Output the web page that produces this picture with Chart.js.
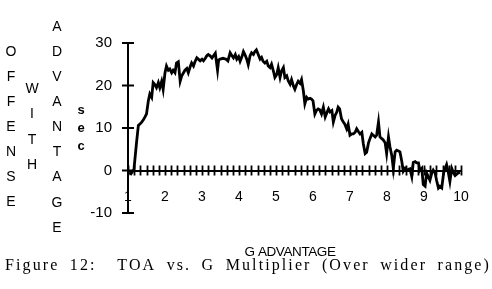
<!DOCTYPE html>
<html>
<head>
<meta charset="utf-8">
<script src="https://cdn.jsdelivr.net/npm/chart.js@4"></script>
<style>
  html, body { margin: 0; padding: 0; background: #fff; }
  canvas { display: block; }
</style>
</head>
<body>
<canvas id="toaChart" width="492" height="289"></canvas>
<script>
// G multiplier (x) and time of advantage in sec (y)
const gMultiplier = [
  1.03, 1.08, 1.12, 1.16, 1.19, 1.23, 1.28, 1.33, 1.37, 1.42, 1.46, 1.50, 1.55, 1.59, 1.64, 1.68, 1.72, 1.77, 1.82, 1.86,
  1.91, 1.95, 2.00, 2.04, 2.09, 2.13, 2.18, 2.22, 2.27, 2.31, 2.36, 2.41, 2.45, 2.50, 2.54, 2.59, 2.63, 2.68, 2.72, 2.77,
  2.81, 2.86, 2.90, 2.95, 3.00, 3.04, 3.09, 3.13, 3.17, 3.22, 3.27, 3.31, 3.36, 3.42, 3.45, 3.49, 3.57, 3.65, 3.70, 3.76,
  3.81, 3.85, 3.90, 3.94, 3.99, 4.03, 4.08, 4.12, 4.16, 4.21, 4.25, 4.30, 4.34, 4.39, 4.43, 4.47, 4.52, 4.57, 4.61, 4.65,
  4.70, 4.75, 4.79, 4.84, 4.88, 4.93, 4.97, 5.02, 5.06, 5.11, 5.15, 5.20, 5.24, 5.29, 5.33, 5.38, 5.42, 5.47, 5.51, 5.56,
  5.60, 5.65, 5.69, 5.74, 5.78, 5.83, 5.87, 5.92, 5.96, 6.00, 6.05, 6.09, 6.14, 6.18, 6.23, 6.28, 6.33, 6.37, 6.42, 6.46,
  6.51, 6.55, 6.60, 6.64, 6.68, 6.72, 6.77, 6.82, 6.86, 6.91, 6.95, 7.00, 7.05, 7.09, 7.14, 7.18, 7.23, 7.27, 7.32, 7.36,
  7.41, 7.45, 7.50, 7.54, 7.59, 7.63, 7.68, 7.72, 7.77, 7.81, 7.86, 7.90, 7.95, 7.99, 8.04, 8.08, 8.13, 8.17, 8.22, 8.26,
  8.31, 8.35, 8.40, 8.44, 8.49, 8.53, 8.58, 8.62, 8.67, 8.71, 8.76, 8.80, 8.85, 8.89, 8.94, 8.98, 9.03, 9.07, 9.12, 9.16,
  9.21, 9.25, 9.30, 9.34, 9.39, 9.43, 9.48, 9.53, 9.57, 9.61, 9.66, 9.70, 9.75, 9.80, 9.84, 9.89, 9.93, 9.97
];
const advantageSec = [
  -0.5, -0.8, -0.3, 0.2, 2.9, 6.5, 10.6, 11.0, 11.4, 12.0, 12.6, 13.3, 16.4, 18.0, 17.2, 20.7, 20.3, 19.5, 20.7, 19.5,
  21.0, 19.1, 23.0, 24.6, 23.6, 23.9, 23.0, 23.6, 23.0, 25.3, 25.6, 21.0, 22.2, 23.0, 23.6, 24.0, 23.0, 24.4, 25.3, 24.6,
  25.6, 26.5, 26.2, 25.8, 26.2, 25.8, 26.4, 27.0, 27.3, 27.0, 26.5, 27.0, 27.6, 23.6, 26.0, 26.2, 26.4, 26.2, 25.8, 27.7,
  27.0, 26.5, 27.3, 26.2, 26.8, 25.7, 26.8, 28.0, 27.3, 26.2, 24.9, 27.0, 27.7, 27.3, 28.0, 28.4, 27.3, 26.2, 26.6, 25.7,
  25.3, 25.7, 24.6, 24.2, 25.0, 23.4, 21.9, 22.6, 24.2, 21.9, 23.4, 24.2, 21.9, 22.3, 21.1, 20.3, 21.4, 19.9, 19.1, 20.3,
  21.0, 20.5, 21.4, 18.7, 15.7, 17.2, 16.8, 17.0, 16.8, 16.4, 13.3, 14.1, 14.5, 14.3, 13.3, 14.9, 12.6, 13.5, 14.5, 13.8,
  14.1, 11.4, 13.0, 13.7, 14.9, 14.5, 12.2, 11.4, 10.9, 9.8, 10.9, 8.3, 8.6, 8.6, 9.0, 9.8, 9.1, 8.6, 9.0, 6.3,
  4.0, 4.3, 6.5, 7.5, 8.6, 8.3, 7.9, 8.3, 11.4, 7.9, 7.5, 7.2, 6.5, 4.0, 7.9, 5.6, 3.5, 0.5, 4.4, 4.8,
  4.6, 4.4, 2.1, -0.2, 0.5, 0.0, 0.3, 0.4, -1.4, 1.9, 2.1, 1.8, 1.8, 0.0, 0.5, -3.3, -3.7, -0.6, -1.5, -2.3,
  -0.6, 0.1, -0.6, -2.3, -4.1, -3.7, -4.1, -0.6, 0.5, 1.4, -0.6, -2.6, 0.5, -0.6, -1.2, -0.8, -0.6, -0.4
];
const yTickValues = [-10, 0, 10, 20, 30];
const xMinorStep = 1 / 6;

const yTitleColumns = ['OFFENSE', 'WITH', 'ADVANTAGE', 'sec'];
const xTitle = 'G ADVANTAGE';
const caption = 'Figure 12:  TOA vs. G Multiplier (Over wider range)';

const points = gMultiplier.map((g, i) => ({ x: g, y: advantageSec[i] }));

// tick marks that cross the axes, plus the stacked-letter titles and caption
const decorPlugin = {
  id: 'decor',
  afterDraw(chart) {
    const ctx = chart.ctx;
    const xs = chart.scales.x;
    const ys = chart.scales.y;
    const y0 = ys.getPixelForValue(0);
    const x0 = xs.getPixelForValue(1);
    ctx.save();
    ctx.strokeStyle = '#000';
    ctx.lineWidth = 1.8;
    ctx.beginPath();
    for (let i = 0; i <= Math.round((xs.max - xs.min) / xMinorStep); i++) {
      const px = Math.round(xs.getPixelForValue(xs.min + i * xMinorStep)) + 0.5;
      ctx.moveTo(px, y0 - 5);
      ctx.lineTo(px, y0 + 5);
    }
    yTickValues.forEach(v => {
      const py = ys.getPixelForValue(v);
      ctx.moveTo(x0 - 6, py);
      ctx.lineTo(x0 + 6, py);
    });
    ctx.stroke();

    ctx.fillStyle = '#000';
    ctx.textAlign = 'center';
    ctx.textBaseline = 'middle';
    const cols = [
      { x: 11, top: 52, step: 25.1, font: '14px "Liberation Sans", Arial, sans-serif' },
      { x: 32, top: 89, step: 25.5, font: '14px "Liberation Sans", Arial, sans-serif' },
      { x: 57, top: 27, step: 25.1, font: '14px "Liberation Sans", Arial, sans-serif' },
      { x: 81, top: 110, step: 18.2, font: 'bold 13px "Liberation Sans", Arial, sans-serif' }
    ];
    yTitleColumns.forEach((word, c) => {
      ctx.font = cols[c].font;
      [...word].forEach((ch, k) => {
        ctx.fillText(ch, cols[c].x, cols[c].top + k * cols[c].step);
      });
    });

    ctx.font = '13.5px "Liberation Sans", Arial, sans-serif';
    ctx.letterSpacing = '-0.4px';
    ctx.fillText(xTitle, 290, 252);

    // caption stretched across the full width, like the typeset original
    ctx.font = '16px "Liberation Serif", "Times New Roman", serif';
    ctx.letterSpacing = '2.1px';
    ctx.wordSpacing = '0px';
    const w0 = ctx.measureText(caption).width;
    const spaces = caption.split(' ').length - 1;
    ctx.wordSpacing = ((486 - w0) / spaces).toFixed(2) + 'px';
    ctx.textAlign = 'left';
    ctx.fillText(caption, 5, 266);
    ctx.restore();
  }
};

const ctx = document.getElementById('toaChart').getContext('2d');
const toaChart = new Chart(ctx, {
  type: 'scatter',
  data: {
    datasets: [
      {
        label: 'TOA',
        data: points,
        showLine: true,
        borderColor: '#000',
        borderWidth: 2.8,
        pointRadius: 0,
        tension: 0,
        fill: false,
      },
    ],
  },
  options: {
    responsive: false,
    animation: false,
    devicePixelRatio: 1,
    layout: {
      padding: { left: 0, top: 43, right: 31, bottom: 76 },
    },
    plugins: {
      legend: { display: false },
      tooltip: { enabled: false },
    },
    scales: {
      x: {
        type: 'linear',
        position: { y: 0 },
        min: 1,
        max: 10,
        grid: { display: false, drawTicks: false },
        border: { display: true, color: '#000', width: 2 },
        ticks: {
          stepSize: 1,
          padding: 18,
          color: '#000',
          font: { family: '"Liberation Sans", Arial, sans-serif', size: 14 },
          maxRotation: 0,
          autoSkip: false,
        },
      },
      y: {
        type: 'linear',
        position: 'left',
        min: -10,
        max: 30,
        afterFit(scale) { scale.width = 128; },
        grid: { display: false, drawTicks: false },
        border: { display: true, color: '#000', width: 2 },
        ticks: {
          stepSize: 10,
          padding: 16,
          color: '#000',
          font: { family: '"Liberation Sans", Arial, sans-serif', size: 15 },
        },
      },
    },
  },
  plugins: [decorPlugin],
});
</script>
</body>
</html>
